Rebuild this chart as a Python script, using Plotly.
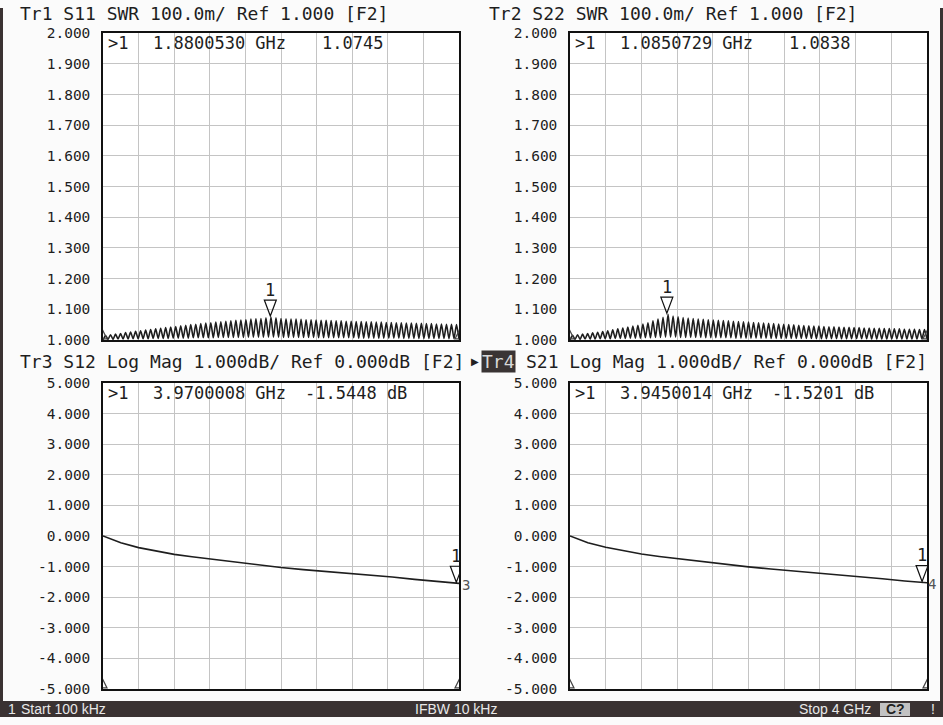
import plotly.graph_objects as go

W, H = 943, 725

# ---------------- data ----------------
start_ghz = 0.0001
stop_ghz = 4.0

# SWR ripple: one peak and one trough per ripple period across the sweep
s11_peaks = [1.014, 1.017, 1.019, 1.021, 1.024, 1.026, 1.028, 1.030, 1.032, 1.034,
             1.036, 1.038, 1.040, 1.042, 1.044, 1.046, 1.048, 1.050, 1.051, 1.053,
             1.055, 1.056, 1.058, 1.059, 1.061, 1.062, 1.064, 1.065, 1.066, 1.068,
             1.069, 1.070, 1.072, 1.0745, 1.072, 1.070, 1.069, 1.068, 1.068, 1.067,
             1.066, 1.066, 1.065, 1.064, 1.064, 1.063, 1.062, 1.062, 1.061, 1.061,
             1.060, 1.060, 1.059, 1.059, 1.058, 1.058, 1.057, 1.057, 1.056, 1.056,
             1.055, 1.055, 1.054, 1.054, 1.053, 1.053, 1.052, 1.052, 1.051, 1.051, 1.050]
s11_troughs = [1.000, 1.002, 1.002, 1.003, 1.003, 1.003, 1.004, 1.004, 1.004, 1.004,
               1.005, 1.005, 1.005, 1.005, 1.006, 1.006, 1.006, 1.006, 1.007, 1.007,
               1.007, 1.007, 1.007, 1.008, 1.008, 1.008, 1.008, 1.008, 1.008, 1.009,
               1.009, 1.009, 1.009, 1.009, 1.009, 1.009, 1.008, 1.008, 1.008, 1.008,
               1.008, 1.008, 1.008, 1.007, 1.007, 1.007, 1.007, 1.007, 1.007, 1.007,
               1.007, 1.006, 1.006, 1.006, 1.006, 1.006, 1.006, 1.006, 1.006, 1.006,
               1.005, 1.005, 1.005, 1.005, 1.005, 1.005, 1.005, 1.005, 1.005, 1.004,
               1.004, 1.002]
s22_peaks = [1.015, 1.017, 1.019, 1.021, 1.023, 1.025, 1.027, 1.030, 1.033, 1.036,
             1.039, 1.042, 1.045, 1.048, 1.052, 1.056, 1.062, 1.068, 1.074, 1.0838,
             1.078, 1.075, 1.073, 1.071, 1.070, 1.068, 1.067, 1.066, 1.065, 1.064,
             1.063, 1.062, 1.061, 1.060, 1.059, 1.058, 1.057, 1.056, 1.055, 1.054,
             1.053, 1.052, 1.051, 1.050, 1.049, 1.048, 1.047, 1.046, 1.045, 1.045,
             1.044, 1.043, 1.043, 1.042, 1.041, 1.041, 1.040, 1.040, 1.039, 1.039,
             1.038, 1.038, 1.037, 1.037, 1.036, 1.036, 1.035, 1.035, 1.035, 1.034, 1.034]
s22_troughs = [1.000, 1.002, 1.002, 1.003, 1.003, 1.003, 1.004, 1.004, 1.004, 1.005,
               1.005, 1.005, 1.006, 1.006, 1.006, 1.007, 1.007, 1.008, 1.008, 1.009,
               1.009, 1.009, 1.008, 1.008, 1.008, 1.008, 1.008, 1.007, 1.007, 1.007,
               1.007, 1.007, 1.007, 1.006, 1.006, 1.006, 1.006, 1.006, 1.006, 1.006,
               1.005, 1.005, 1.005, 1.005, 1.005, 1.005, 1.005, 1.005, 1.005, 1.004,
               1.004, 1.004, 1.004, 1.004, 1.004, 1.004, 1.004, 1.004, 1.004, 1.004,
               1.003, 1.003, 1.003, 1.003, 1.003, 1.003, 1.003, 1.003, 1.003, 1.003,
               1.003, 1.002]

loss_freq_ghz = [0.0001, 0.1, 0.2, 0.4, 0.6, 0.8, 1.0, 1.25, 1.5, 1.75, 2.0,
                 2.25, 2.5, 2.75, 3.0, 3.25, 3.5, 3.75, 4.0]
s12_db = [0.0, -0.12, -0.22, -0.38, -0.50, -0.60, -0.68, -0.77, -0.86, -0.95, -1.03,
          -1.10, -1.16, -1.21, -1.27, -1.34, -1.42, -1.49, -1.55]
s21_db = [0.0, -0.12, -0.22, -0.37, -0.49, -0.59, -0.67, -0.76, -0.85, -0.93, -1.01,
          -1.08, -1.14, -1.20, -1.26, -1.33, -1.40, -1.47, -1.53]

swr_ticks = [2.0, 1.9, 1.8, 1.7, 1.6, 1.5, 1.4, 1.3, 1.2, 1.1, 1.0]
swr_labels = ["2.000", "1.900", "1.800", "1.700", "1.600", "1.500",
              "1.400", "1.300", "1.200", "1.100", "1.000"]
db_ticks = [5, 4, 3, 2, 1, 0, -1, -2, -3, -4, -5]
db_labels = ["5.000", "4.000", "3.000", "2.000", "1.000", "0.000",
             "-1.000", "-2.000", "-3.000", "-4.000", "-5.000"]

titles = ["Tr1 S11 SWR 100.0m/ Ref 1.000 [F2]",
          "Tr2 S22 SWR 100.0m/ Ref 1.000 [F2]",
          "Tr3 S12 Log Mag 1.000dB/ Ref 0.000dB [F2]",
          "S21 Log Mag 1.000dB/ Ref 0.000dB [F2]"]
marker_freq_ghz = [1.8800530, 1.0850729, 3.9700008, 3.9450014]
marker_value = [1.0745, 1.0838, -1.5448, -1.5201]
marker_freq_text = ["1.8800530 GHz", "1.0850729 GHz", "3.9700008 GHz", "3.9450014 GHz"]
marker_value_text = ["1.0745", "1.0838", "-1.5448 dB", "-1.5201 dB"]
ref_level = [1.0, 1.0, 0.0, 0.0]

# ---------------- helpers ----------------
def ripple(peaks, troughs):
    n = len(peaks)
    step = (stop_ghz - start_ghz) / n
    xs, ys = [], []
    for i in range(n):
        xs += [start_ghz + i * step, start_ghz + (i + 0.5) * step]
        ys += [troughs[i], peaks[i]]
    xs.append(stop_ghz)
    ys.append(troughs[n])
    return xs, ys

# the viewer places the figure slightly lower and shorter than the page;
# vertical paper positions are compensated for that.
TOP_OFF = 8.0
V_SCALE = 725.0 / 707.0

def px(x):
    return x / W

def py(y):
    v = 1 - ((y - TOP_OFF) * V_SCALE) / H
    return min(1.0, max(0.0, v))

MONO = "DejaVu Sans Mono, Liberation Mono, monospace"
INK = "#1e1e1e"

# panel geometry (pixels in the reference): left, right, top, bottom
panels = [(103, 459, 33, 339), (570, 927, 33, 339),
          (103, 459, 382, 687), (570, 927, 382, 687)]

fig = go.Figure()

x1, y1 = ripple(s11_peaks, s11_troughs)
x2, y2 = ripple(s22_peaks, s22_troughs)
series = [(x1, y1), (x2, y2), (loss_freq_ghz, s12_db), (loss_freq_ghz, s21_db)]

layout_axes = {}
shapes = []
annotations = []

for k in range(4):
    l, r, t, b = panels[k]
    sfx = "" if k == 0 else str(k + 1)
    xs, ys = series[k]
    fig.add_trace(go.Scatter(
        x=xs, y=ys, mode="lines", xaxis="x" + sfx, yaxis="y" + sfx,
        line=dict(color=INK, width=1.6, shape="spline" if k < 2 else "linear", smoothing=0.6),
        showlegend=False, hoverinfo="skip"))

    if k < 2:
        yr, tv, tt = [1.0, 2.0], swr_ticks, swr_labels
    else:
        yr, tv, tt = [-5, 5], db_ticks, db_labels

    layout_axes["xaxis" + sfx] = dict(
        domain=[px(l), px(r)], anchor="y" + sfx, range=[0, stop_ghz],
        tickmode="linear", tick0=0, dtick=0.4, showticklabels=False, ticks="",
        showgrid=True, gridcolor="#c4c4c4", gridwidth=1, zeroline=False,
        showline=True, linecolor="#111", linewidth=1.5, mirror=True, fixedrange=True)
    layout_axes["yaxis" + sfx] = dict(
        domain=[py(b), py(t)], anchor="x" + sfx, range=yr,
        tickmode="array", tickvals=tv, ticktext=tt, ticks="",
        ticklabelstandoff=8,
        tickfont=dict(family=MONO, size=14.5, color=INK),
        showgrid=True, gridcolor="#c4c4c4", gridwidth=1, zeroline=False,
        showline=True, linecolor="#111", linewidth=1.5, mirror=True, fixedrange=True)

    xr, yrf = "x" + sfx, "y" + sfx

    def tri(path, xa, ya, fill, line="#222"):
        return dict(type="path", xref=xr, yref=yrf, xsizemode="pixel", ysizemode="pixel",
                    xanchor=xa, yanchor=ya, path=path, fillcolor=fill,
                    line=dict(color=line, width=1.2), layer="above")

    # reference level indicators
    shapes.append(tri("M-8,6 L-8,-6 L-1,0 Z", 0, ref_level[k], "#333"))
    shapes.append(tri("M9,6 L9,-6 L2,0 Z", stop_ghz, ref_level[k], "#333"))
    # marker 1
    mf, mv = marker_freq_ghz[k], marker_value[k]
    shapes.append(tri("M-6,17 L6,17 L0,1 Z", mf, mv, "rgba(255,255,255,0)", "#111"))
    annotations.append(dict(x=mf, y=mv, xref=xr, yref=yrf, text="1", showarrow=False,
                            yshift=27, font=dict(family=MONO, size=17, color=INK)))
    if k >= 2:
        annotations.append(dict(x=mf, y=mv, xref=xr, yref=yrf, text=str(k + 1), showarrow=False,
                                xshift=10, yshift=-2, font=dict(family=MONO, size=14, color="#555")))
    # stimulus markers at the bottom corners
    shapes.append(tri("M-4,1 L4,1 L0,9 Z", 0, yr[0], "rgba(255,255,255,0)", "#444"))
    shapes.append(tri("M-4,1 L4,1 L0,9 Z", stop_ghz, yr[0], "rgba(255,255,255,0)", "#444"))
    # marker position on the axis
    pos_f = mf if k < 2 else stop_ghz
    shapes.append(tri("M-6,-11 L6,-11 L0,-3 Z", pos_f, yr[0], "#222"))

    # readout line
    top_px = t + 10
    annotations.append(dict(x=px(l + 3), y=py(top_px), xref="paper", yref="paper", text=">1",
                            xanchor="left", yanchor="middle", showarrow=False,
                            font=dict(family=MONO, size=17, color=INK)))
    annotations.append(dict(x=px(l + 48), y=py(top_px), xref="paper", yref="paper",
                            text=marker_freq_text[k], xanchor="left", yanchor="middle",
                            showarrow=False, font=dict(family=MONO, size=17, color=INK)))
    vx = l + 217 if k < 2 else l + 200
    annotations.append(dict(x=px(vx), y=py(top_px), xref="paper", yref="paper",
                            text=marker_value_text[k], xanchor="left", yanchor="middle",
                            showarrow=False, font=dict(family=MONO, size=17, color=INK)))

# titles
title_pos = [(18, 13), (487, 13), (18, 361), (524, 361)]
for k in range(4):
    xx, yy = title_pos[k]
    annotations.append(dict(x=px(xx), y=py(yy), xref="paper", yref="paper", text=titles[k],
                            xanchor="left", yanchor="middle", showarrow=False,
                            font=dict(family=MONO, size=18, color=INK)))
annotations.append(dict(x=px(481), y=py(361), xref="paper", yref="paper", text="Tr4",
                        xanchor="left", yanchor="middle", showarrow=False, bgcolor="#3a3434",
                        borderpad=0, font=dict(family=MONO, size=18, color="#d8d8d8")))
annotations.append(dict(x=px(469), y=py(361), xref="paper", yref="paper", text="▶",
                        xanchor="left", yanchor="middle", showarrow=False,
                        font=dict(family="DejaVu Sans", size=10, color="#222")))

# status bar and side borders
BAR = "#3a3232"
shapes.append(dict(type="rect", xref="paper", yref="paper", x0=0, x1=1, y0=0, y1=py(699),
                   fillcolor=BAR, line=dict(width=0), layer="above"))
shapes.append(dict(type="rect", xref="paper", yref="paper", x0=0, x1=px(3), y0=0, y1=1,
                   fillcolor=BAR, line=dict(width=0)))
shapes.append(dict(type="rect", xref="paper", yref="paper", x0=px(940), x1=1, y0=0, y1=1,
                   fillcolor=BAR, line=dict(width=0)))
shapes.append(dict(type="rect", xref="paper", yref="paper", x0=px(880), x1=px(910),
                   y0=py(714), y1=py(701), fillcolor="#c2c2c2", line=dict(width=0), layer="above"))
BARFONT = "Liberation Sans Narrow, Liberation Sans, Arial, sans-serif"
BAR_Y = 707.5
status = [("1", 6), ("Start 100 kHz", 19), ("IFBW 10 kHz", 413), ("Stop 4 GHz", 797)]
for txt, xx in status:
    annotations.append(dict(x=px(xx), y=py(BAR_Y), xref="paper", yref="paper", text=txt,
                            xanchor="left", yanchor="middle", showarrow=False,
                            font=dict(family=BARFONT, size=14, color="#e8e8e8")))
annotations.append(dict(x=px(895), y=py(BAR_Y), xref="paper", yref="paper", text="<b>C?</b>",
                        xanchor="center", yanchor="middle", showarrow=False,
                        font=dict(family=BARFONT, size=14, color="#222")))
annotations.append(dict(x=px(933), y=py(BAR_Y), xref="paper", yref="paper", text="!",
                        xanchor="center", yanchor="middle", showarrow=False,
                        font=dict(family=BARFONT, size=14, color="#e8e8e8")))

fig.update_layout(
    width=W, height=H, margin=dict(l=0, r=0, t=0, b=0),
    paper_bgcolor="#fbfbfb", plot_bgcolor="#ffffff",
    shapes=shapes, annotations=annotations, showlegend=False,
    **layout_axes)

fig.write_html(
    "out.html",
    config={"displayModeBar": False},
    post_script=(
        "document.body.style.margin='0';document.body.style.padding='0';"
        "document.documentElement.style.overflow='hidden';"
        "document.documentElement.style.background='#fbfbfb';"
    ),
)
